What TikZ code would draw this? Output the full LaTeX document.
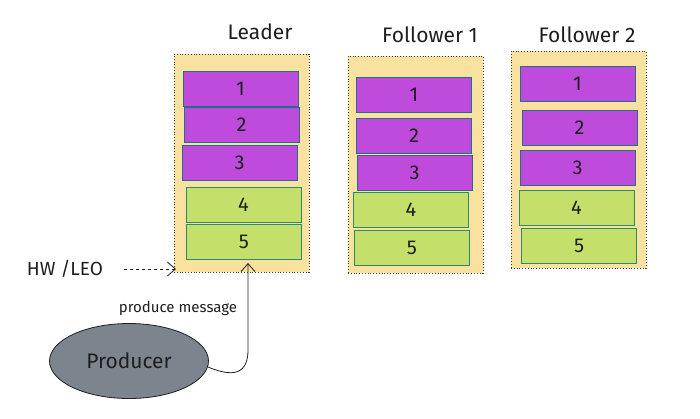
\documentclass[tikz,border=0pt]{standalone}
\usepackage{fontspec}
\setmainfont{Fira Sans}
\usetikzlibrary{arrows.meta,shapes.geometric,patterns}
\definecolor{contfill}{HTML}{F9E2A0}
\definecolor{contline}{HTML}{3A3A3A}
\definecolor{purp}{HTML}{BE4BDB}
\definecolor{purpline}{HTML}{1F6E8C}
\definecolor{grn}{HTML}{C4E06A}
\definecolor{grnline}{HTML}{2B8A6E}
\definecolor{prodfill}{HTML}{7C858E}
\definecolor{ink}{HTML}{1E1E1E}
\tikzset{
  cont/.style={draw=contline, dotted, line width=0.8pt, fill=contfill, minimum width=135pt, minimum height=217pt, inner sep=0pt},
  pblock/.style={draw=purpline, line width=1pt, fill=purp, minimum width=115pt, minimum height=35pt, inner sep=0pt, font=\fontsize{20}{22}\selectfont, text=ink},
  gblock/.style={draw=grnline, line width=1pt, fill=grn, minimum width=115pt, minimum height=35pt, inner sep=0pt, font=\fontsize{20}{22}\selectfont, text=ink},
  title/.style={font=\fontsize{21}{23}\selectfont, text=ink},
  conn/.style={draw=ink, line width=0.8pt, -{Straight Barb[length=8pt,width=14pt]}}
}
\begin{document}
\begin{tikzpicture}[x=1pt,y=-1pt]
\useasboundingbox (0,0) rectangle (700,418);
% containers
\node[cont, minimum width=135pt, minimum height=218pt] (Lc) at (241.5,163) {};
\node[cont] (F1c) at (415.5,164.5) {};
\node[cont] (F2c) at (578.5,159.5) {};
% titles
\node[title] (Lt) at (260,32) {Leader};
\node[title] (F1t) at (430,35) {Follower 1};
\node[title] (F2t) at (587,35) {Follower 2};
% leader blocks
\node[pblock] (L1) at (240.5,88.5) {1};
\node[pblock] (L2) at (241.5,124.5) {2};
\node[pblock] (L3) at (239.5,163) {3};
\node[gblock] (L4) at (243.5,204.5) {4};
\node[gblock] (L5) at (244,242) {5};
% follower 1 blocks
\node[pblock] (A1) at (414,95) {1};
\node[pblock] (A2) at (414,135.5) {2};
\node[pblock] (A3) at (414.5,173) {3};
\node[gblock] (A4) at (411,210) {4};
\node[gblock] (A5) at (412,248) {5};
% follower 2 blocks
\node[pblock] (B1) at (577.5,84) {1};
\node[pblock] (B2) at (579.5,128) {2};
\node[pblock] (B3) at (577.5,167.5) {3};
\node[gblock] (B4) at (576.5,207.5) {4};
\node[gblock] (B5) at (579,246) {5};
% HW / LEO
\node[title, font=\fontsize{19}{21}\selectfont] (hw) at (65,269) {HW /LEO};
\coordinate (hwstart) at (124,269);
\coordinate (hwtip) at (176,269);
\draw[conn, dashed] (hwstart) -- (hwtip);
% producer
\node[draw=ink, line width=0.8pt, fill=prodfill, ellipse, minimum width=159pt, minimum height=75pt, inner sep=0pt, font=\fontsize{21}{23}\selectfont, text=ink] (prod) at (129,361) {Producer};
\coordinate (ptip) at (248,263);
\coordinate (pstart) at (208,367);
\draw[conn] (pstart) .. controls (225,374) and (248,380) .. (248,350) -- (ptip);
\node[font=\fontsize{15}{16}\selectfont, text=ink] (pm) at (178,308) {produce message};
\end{tikzpicture}
\end{document}
